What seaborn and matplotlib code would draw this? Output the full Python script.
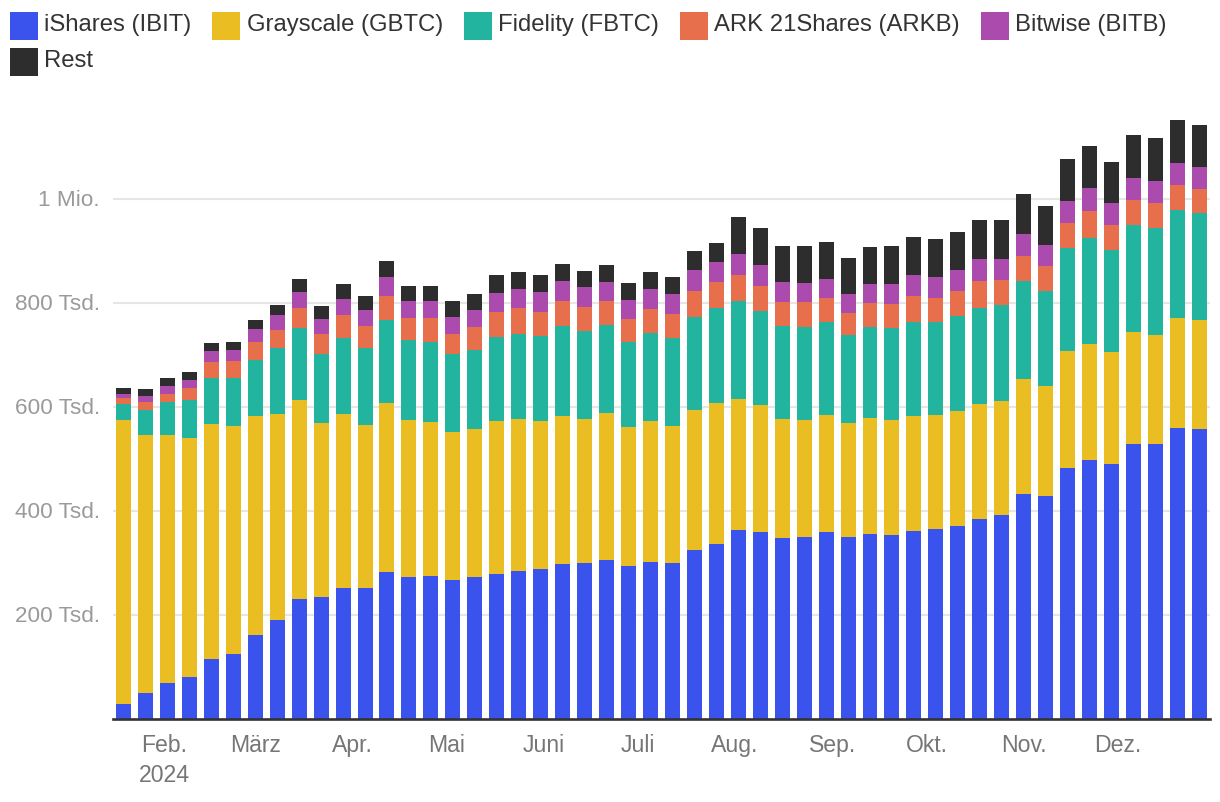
import numpy as np
import pandas as pd
import matplotlib
matplotlib.use("Agg")
import matplotlib.pyplot as plt
import matplotlib.dates as mdates
import matplotlib.transforms as mtransforms
from matplotlib.patches import Patch
import seaborn as sns

# Weekly holdings of US spot Bitcoin ETFs (in thousand BTC)
weeks = pd.date_range("2024-01-19", periods=50, freq="7D")

ishares = [28.1, 49.2, 68.4, 79.9, 114.5, 124.1, 160.5, 189.3, 229.6, 233.4,
           250.7, 250.7, 281.4, 271.8, 273.7, 266.0, 271.2, 278.3, 284.2, 286.8,
           297.8, 299.7, 305.6, 293.9, 301.7, 299.7, 323.1, 336.1, 362.0, 359.4,
           346.5, 348.4, 358.1, 349.5, 354.9, 353.4, 361.1, 365.0, 370.4, 384.3,
           392.0, 432.1, 428.2, 482.3, 496.9, 490.0, 527.8, 527.8, 558.6, 557.1]
grayscale = [546.8, 496.9, 477.7, 460.4, 452.8, 439.3, 422.1, 397.1, 383.7, 335.7,
             335.7, 314.6, 326.1, 303.1, 297.4, 285.9, 285.5, 293.9, 292.0, 285.5,
             284.8, 276.4, 282.2, 266.7, 270.5, 262.8, 270.5, 270.5, 252.4, 242.6,
             229.7, 225.8, 225.8, 219.1, 223.0, 220.7, 220.7, 218.4, 220.7, 220.7,
             218.4, 220.7, 211.4, 224.5, 223.0, 214.5, 215.3, 209.9, 211.4, 209.1]
fidelity = [30.7, 46.7, 63.3, 72.9, 88.3, 92.1, 106.2, 125.3, 136.9, 132.4,
            144.5, 146.4, 159.2, 152.2, 153.5, 148.4, 151.8, 162.2, 163.5, 163.5,
            172.6, 168.7, 168.7, 163.5, 168.7, 169.3, 178.4, 182.3, 188.8, 181.7,
            179.1, 178.4, 179.1, 169.8, 175.9, 176.7, 181.3, 179.8, 182.9, 184.4,
            185.2, 188.3, 182.1, 198.3, 203.7, 196.0, 205.2, 206.0, 207.6, 206.8]
ark = [10.2, 15.3, 15.3, 21.7, 29.4, 31.3, 35.8, 35.8, 39.6, 38.4,
       46.0, 42.2, 46.0, 43.5, 44.8, 39.6, 44.1, 47.4, 49.3, 46.1,
       47.4, 46.1, 46.1, 44.1, 46.1, 46.1, 50.0, 50.0, 49.3, 48.0,
       45.4, 48.0, 45.4, 41.7, 44.8, 46.3, 49.4, 45.5, 47.8, 51.7,
       47.1, 47.8, 47.8, 47.1, 52.5, 47.8, 49.4, 47.1, 47.8, 44.8]
bitwise = [9.0, 12.8, 15.3, 16.6, 22.4, 22.4, 24.9, 28.8, 30.7, 28.8,
           30.1, 32.0, 35.4, 32.6, 33.9, 32.6, 33.1, 36.3, 37.0, 38.3,
           38.3, 38.9, 36.3, 36.3, 38.9, 38.3, 40.2, 38.9, 40.2, 40.2,
           38.3, 36.3, 36.3, 36.3, 37.0, 38.6, 40.1, 40.1, 40.1, 42.4,
           40.9, 42.4, 40.9, 42.4, 43.2, 42.4, 40.9, 42.4, 42.4, 42.4]
rest = [11.5, 13.4, 15.3, 15.3, 15.3, 15.3, 17.3, 19.2, 24.7, 24.9,
        28.8, 26.9, 30.8, 28.8, 28.8, 30.7, 30.5, 34.4, 32.4, 32.4,
        33.1, 30.5, 33.1, 32.4, 32.4, 32.4, 36.3, 36.3, 71.4, 70.7,
        69.4, 71.4, 71.4, 68.7, 71.0, 72.5, 73.3, 73.3, 73.3, 74.8,
        74.8, 77.2, 74.8, 81.0, 81.0, 78.7, 82.6, 82.6, 82.6, 81.0]

series_names = ["iShares (IBIT)", "Grayscale (GBTC)", "Fidelity (FBTC)",
                "ARK 21Shares (ARKB)", "Bitwise (BITB)", "Rest"]
colors = ["#3a53ec", "#eabd23", "#23b49f", "#e76f4b", "#ac4bae", "#2d2d2d"]

ytick_values = [200, 400, 600, 800, 1000]
ytick_labels = ["200 Tsd.", "400 Tsd.", "600 Tsd.", "800 Tsd.", "1 Mio."]
month_ticks = ["2024-02-01", "2024-03-01", "2024-04-01", "2024-05-01", "2024-06-01",
               "2024-07-01", "2024-08-01", "2024-09-01", "2024-10-01", "2024-11-01",
               "2024-12-01"]
month_labels = ["Feb.\n2024", "März", "Apr.", "Mai", "Juni", "Juli", "Aug.",
                "Sep.", "Okt.", "Nov.", "Dez."]

sns.set_theme(style="white")
plt.rcParams["font.family"] = ["Liberation Sans", "DejaVu Sans"]

df = pd.DataFrame(dict(zip(series_names,
                           [ishares, grayscale, fidelity, ark, bitwise, rest])),
                  index=weeks)
cum = df.cumsum(axis=1)
xnum = mdates.date2num(weeks.to_pydatetime())

W, H = 1220, 802
fig = plt.figure(figsize=(W / 100, H / 100), dpi=100)
ax = fig.add_axes([113 / W, 1 - 718.5 / H, (1210 - 113) / W, (718.5 - 100) / H])

for name, color in reversed(list(zip(series_names, colors))):
    sns.barplot(x=xnum, y=cum[name].values, color=color, native_scale=True,
                width=0.683, saturation=1, errorbar=None, linewidth=0,
                edgecolor="none", ax=ax)

ax.set_ylim(0, (718.5 - 100) / 104 * 200)
ax.set_xlim(xnum[0] - 3.35, xnum[0] + 346.4)

ax.set_yticks(ytick_values)
ax.set_yticklabels(ytick_labels)
ax.yaxis.grid(True, color="#e6e6e6", linewidth=1.5)
ax.xaxis.grid(False)
ax.set_axisbelow(True)
ax.tick_params(axis="y", length=0, pad=9.4, labelsize=16.2, labelcolor="#9a9a9a")

ax.set_xticks(mdates.date2num(pd.to_datetime(month_ticks).to_pydatetime()))
ax.set_xticklabels(month_labels, linespacing=1.38)
ax.tick_params(axis="x", length=0, pad=11.5, labelsize=16.6, labelcolor="#767676")
ax.set_xlabel("")
ax.set_ylabel("")

for s in ["top", "right", "left"]:
    ax.spines[s].set_visible(False)
ax.spines["bottom"].set_color("#333333")
ax.spines["bottom"].set_linewidth(1.9)

handles = [Patch(facecolor=c, edgecolor="none") for c in colors]
leg_kw = dict(loc="upper left", frameon=False, fontsize=17.2, handlelength=1.17,
              handleheight=1.43, handletextpad=0.27, columnspacing=0.87,
              borderpad=0, borderaxespad=0, labelcolor="#333333")
leg1 = fig.legend(handles[:5], series_names[:5], ncol=5,
                  bbox_to_anchor=(10 / W, 1 - 12 / H), **leg_kw)
leg2 = fig.legend(handles[5:], series_names[5:], ncol=1,
                  bbox_to_anchor=(10 / W, 1 - 48 / H), **leg_kw)
# legend labels sit slightly above the centre of their colour squares
for leg in (leg1, leg2):
    for t in leg.get_texts():
        t.set_transform(t.get_transform() + mtransforms.Affine2D().translate(0, 2.5))

fig.savefig("out.png", dpi=100)
